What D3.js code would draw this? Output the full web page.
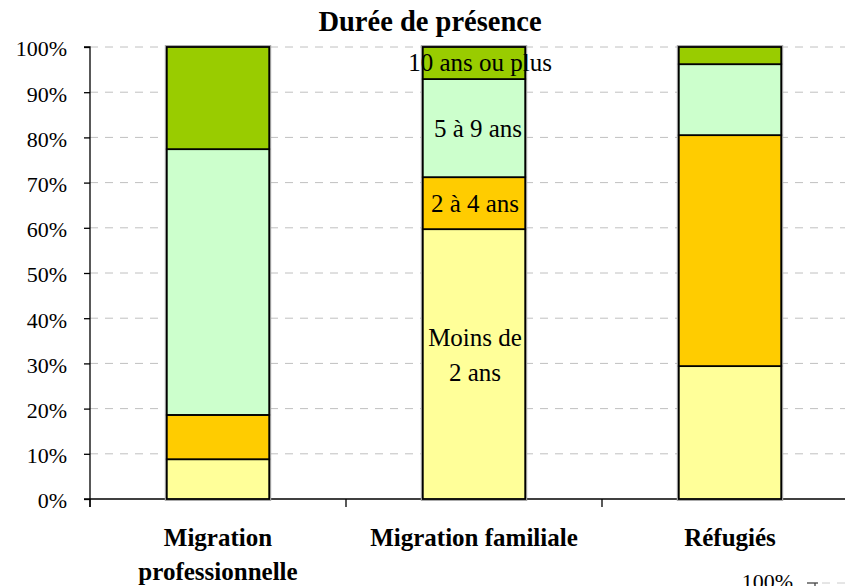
<!DOCTYPE html>
<html><head><meta charset="utf-8">
<script src="https://cdn.jsdelivr.net/npm/d3@7"></script>
<style>body{margin:0;background:#fff;} svg{display:block;font-family:"Liberation Serif","Times New Roman",serif;}</style>
</head><body>
<svg id="chart" width="845" height="586"></svg>
<script>
const categories = [["Migration","professionnelle"],["Migration familiale"],["Réfugiés"]];
const seriesNames = ["Moins de 2 ans","2 à 4 ans","5 à 9 ans","10 ans ou plus"];
const seriesColors = ["#FFFF99","#FFCC00","#CCFFCC","#99CC00"];
const lessThan2 = [8.8, 59.7, 29.4];
const from2to4 = [9.8, 11.5, 51.1];
const from5to9 = [58.8, 21.7, 15.7];
const tenPlus  = [22.6, 7.1, 3.8];
const yTicks = [0,10,20,30,40,50,60,70,80,90,100];
const title = "Durée de présence";

(function(){
const svg = d3.select("#chart");
const pLeft = 90, pRight = 858, pTop = 47, pBottom = 499;
const x = d3.scaleBand().domain(d3.range(categories.length)).range([pLeft, pRight]).paddingInner(0.6).paddingOuter(0.3);
const xOuter = d3.scaleBand().domain(d3.range(categories.length)).range([pLeft, pRight]);
const y = d3.scaleLinear().domain([0,100]).range([pBottom, pTop]);

// gridlines
svg.append("g").selectAll("line").data(yTicks.filter(d=>d>0)).join("line")
  .attr("x1", pLeft).attr("x2", pRight).attr("y1", d=>y(d)).attr("y2", d=>y(d))
  .attr("stroke","#c0c0c0").attr("stroke-width",1).attr("stroke-dasharray","8,7");

// y axis
const yAxis = d3.axisLeft(y).tickValues(yTicks).tickFormat(d=>d+"%").tickSize(6).tickPadding(17);
const gy = svg.append("g").attr("transform",`translate(${pLeft},0)`).call(yAxis);
gy.select(".domain").attr("stroke","#000").attr("stroke-width",1.3).attr("d",`M-6,${pTop}H0V${pBottom+8}`);
gy.selectAll(".tick line").attr("stroke","#000").attr("stroke-width",1.3);
gy.selectAll(".tick text").attr("font-family","Liberation Serif").attr("font-size",22).attr("fill","#000").attr("dy","0.40em");

// x axis
const gx = svg.append("g").attr("transform",`translate(0,${pBottom})`);
gx.append("line").attr("x1",pLeft-6).attr("x2",pRight).attr("y1",0).attr("y2",0).attr("stroke","#000").attr("stroke-width",1.3);
gx.selectAll("line.t").data(d3.range(categories.length+1)).join("line").attr("class","t")
  .attr("x1",i=>pLeft+i*xOuter.bandwidth()).attr("x2",i=>pLeft+i*xOuter.bandwidth())
  .attr("y1",0).attr("y2",8).attr("stroke","#000").attr("stroke-width",1.3);

// stacked data
const table = categories.map((c,i)=>({i, s0:lessThan2[i], s1:from2to4[i], s2:from5to9[i], s3:tenPlus[i]}));
const stack = d3.stack().keys(["s0","s1","s2","s3"]);
const layers = stack(table);

// halo
svg.append("g").selectAll("rect").data(table).join("rect")
  .attr("x", d=>x(d.i)).attr("width", x.bandwidth())
  .attr("y", y(100)).attr("height", y(0)-y(100))
  .attr("fill","none").attr("stroke","#aaa").attr("stroke-width",4);

const gBars = svg.append("g");
layers.forEach((layer,k)=>{
  gBars.append("g").selectAll("rect").data(layer).join("rect")
    .attr("x",(d,i)=>x(i)).attr("width",x.bandwidth())
    .attr("y",d=>y(d[1])).attr("height",d=>y(d[0])-y(d[1]))
    .attr("fill",seriesColors[k]).attr("stroke","#000").attr("stroke-width",1.8);
});

// data labels on middle bar
const mid = 1;
const lab = svg.append("g").attr("font-size",25).attr("fill","#000").attr("text-anchor","middle");
const cx = x(mid)+x.bandwidth()/2;
const segMid = k => (y(layers[k][mid][0])+y(layers[k][mid][1]))/2;
lab.append("text").attr("x",cx+6).attr("y",segMid(3)-1).attr("dy","0.35em").text("10 ans ou plus");
lab.append("text").attr("x",cx+4).attr("y",segMid(2)).attr("dy","0.35em").text("5 à 9 ans");
lab.append("text").attr("x",cx+1).attr("y",segMid(1)).attr("dy","0.35em").text("2 à 4 ans");
lab.append("text").attr("x",cx+1).attr("y",segMid(0)-27).attr("dy","0.35em").text("Moins de");
lab.append("text").attr("x",cx+1).attr("y",segMid(0)+8).attr("dy","0.35em").text("2 ans");

// category labels
const cl = svg.append("g").attr("font-size",25).attr("font-weight","bold").attr("text-anchor","middle");
categories.forEach((c,i)=>{
  c.forEach((line,j)=>{
    cl.append("text").attr("x",xOuter(i)+xOuter.bandwidth()/2).attr("y",546+j*34).text(line);
  });
});

// title
svg.append("text").attr("x",430).attr("y",31).attr("text-anchor","middle")
  .attr("font-size",28.5).attr("font-weight","bold").text(title);

// fragment of next chart at bottom right
svg.append("text").attr("x",793).attr("y",589).attr("text-anchor","end").attr("font-size",22).text("100%");
svg.append("line").attr("x1",807).attr("x2",818).attr("y1",583).attr("y2",583).attr("stroke","#444").attr("stroke-width",1.3);
svg.append("line").attr("x1",815).attr("x2",815).attr("y1",583).attr("y2",586).attr("stroke","#444").attr("stroke-width",1.3);
svg.append("line").attr("x1",822).attr("x2",845).attr("y1",583).attr("y2",583).attr("stroke","#ccc").attr("stroke-dasharray","8,7");
})();
</script>
</body></html>
